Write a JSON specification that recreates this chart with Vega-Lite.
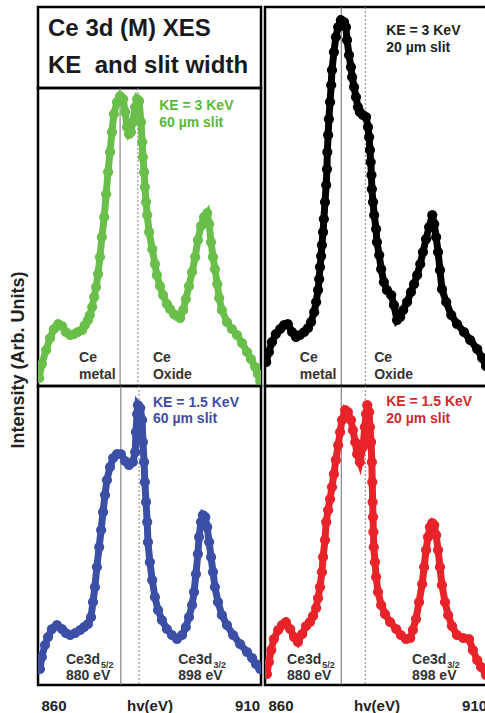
{
  "$schema": "https://vega.github.io/schema/vega-lite/v6.json",
  "background": "white",
  "padding": {"left": 9, "top": 5, "right": 0, "bottom": 0},
  "title": {"text": "Intensity (Arb. Units)", "orient": "left", "anchor": "middle", "font": "Liberation Sans", "fontSize": 18, "fontWeight": "bold", "color": "#222222", "offset": 9},
  "config": {
    "view": {"stroke": "#000000", "strokeWidth": 2.5},
    "concat": {"spacing": 0},
    "text": {"font": "Liberation Sans"}
  },
  "datasets": {
    "heading": [
      {"line": 1, "text": "Ce 3d (M) XES"},
      {"line": 2, "text": "KE\u00a0\u00a0and slit width"}
    ],
    "vlines": [
      {"panel": "A", "state": "metal", "eV": 877.2},
      {"panel": "A", "state": "oxide", "eV": 881.8},
      {"panel": "B", "state": "metal", "eV": 875.7},
      {"panel": "B", "state": "oxide", "eV": 881.9},
      {"panel": "C", "state": "metal", "eV": 877.4},
      {"panel": "C", "state": "oxide", "eV": 882.1},
      {"panel": "D", "state": "metal", "eV": 875.7},
      {"panel": "D", "state": "oxide", "eV": 881.9}
    ],
    "notes": [
      {"panel": "A", "kind": "cond", "eV": 887.3, "counts": 276, "text": "KE = 3 KeV"},
      {"panel": "A", "kind": "cond", "eV": 887.3, "counts": 259, "text": "60 µm slit"},
      {"panel": "A", "kind": "label", "eV": 866.6, "counts": 24, "text": "Ce"},
      {"panel": "A", "kind": "label", "eV": 866.6, "counts": 7, "text": "metal"},
      {"panel": "A", "kind": "label", "eV": 885.7, "counts": 24, "text": "Ce"},
      {"panel": "A", "kind": "label", "eV": 885.7, "counts": 7, "text": "Oxide"},
      {"panel": "B", "kind": "cond", "eV": 887.3, "counts": 351, "text": "KE = 3 KeV"},
      {"panel": "B", "kind": "cond", "eV": 887.3, "counts": 334, "text": "20 µm slit"},
      {"panel": "B", "kind": "label", "eV": 865.0, "counts": 24, "text": "Ce"},
      {"panel": "B", "kind": "label", "eV": 865.0, "counts": 7, "text": "metal"},
      {"panel": "B", "kind": "label", "eV": 884.2, "counts": 24, "text": "Ce"},
      {"panel": "B", "kind": "label", "eV": 884.2, "counts": 7, "text": "Oxide"},
      {"panel": "C", "kind": "cond", "eV": 885.7, "counts": 278, "text": "KE = 1.5 KeV"},
      {"panel": "C", "kind": "cond", "eV": 885.7, "counts": 262, "text": "60 µm slit"},
      {"panel": "C", "kind": "label", "eV": 863.2, "counts": 21, "text": "Ce3d"},
      {"panel": "C", "kind": "label", "eV": 863.2, "counts": 5, "text": "880 eV"},
      {"panel": "C", "kind": "label", "eV": 892.2, "counts": 21, "text": "Ce3d"},
      {"panel": "C", "kind": "label", "eV": 892.2, "counts": 5, "text": "898 eV"},
      {"panel": "C", "kind": "sub", "eV": 872.3, "counts": 17, "text": "5/2"},
      {"panel": "C", "kind": "sub", "eV": 901.3, "counts": 17, "text": "3/2"},
      {"panel": "D", "kind": "cond", "eV": 887.3, "counts": 279, "text": "KE = 1.5 KeV"},
      {"panel": "D", "kind": "cond", "eV": 887.3, "counts": 262, "text": "20 µm slit"},
      {"panel": "D", "kind": "label", "eV": 861.7, "counts": 21, "text": "Ce3d"},
      {"panel": "D", "kind": "label", "eV": 861.7, "counts": 5, "text": "880 eV"},
      {"panel": "D", "kind": "label", "eV": 894.0, "counts": 21, "text": "Ce3d"},
      {"panel": "D", "kind": "label", "eV": 894.0, "counts": 5, "text": "898 eV"},
      {"panel": "D", "kind": "sub", "eV": 870.8, "counts": 17, "text": "5/2"},
      {"panel": "D", "kind": "sub", "eV": 903.1, "counts": 17, "text": "3/2"}
    ],
    "spectra": [
      {"panel": "A", "eV": 856.3, "counts": 8}, {"panel": "A", "eV": 857.0, "counts": 22}, {"panel": "A", "eV": 858.1, "counts": 36}, {"panel": "A", "eV": 859.1, "counts": 48},
      {"panel": "A", "eV": 860.1, "counts": 57}, {"panel": "A", "eV": 861.2, "counts": 62}, {"panel": "A", "eV": 862.2, "counts": 60}, {"panel": "A", "eV": 863.2, "counts": 54},
      {"panel": "A", "eV": 864.3, "counts": 51}, {"panel": "A", "eV": 865.3, "counts": 52}, {"panel": "A", "eV": 866.3, "counts": 54}, {"panel": "A", "eV": 867.4, "counts": 56},
      {"panel": "A", "eV": 868.1, "counts": 61}, {"panel": "A", "eV": 868.9, "counts": 66}, {"panel": "A", "eV": 869.4, "counts": 71}, {"panel": "A", "eV": 870.0, "counts": 79},
      {"panel": "A", "eV": 870.5, "counts": 89}, {"panel": "A", "eV": 871.0, "counts": 99}, {"panel": "A", "eV": 871.5, "counts": 112}, {"panel": "A", "eV": 872.0, "counts": 129},
      {"panel": "A", "eV": 872.5, "counts": 149}, {"panel": "A", "eV": 873.1, "counts": 169}, {"panel": "A", "eV": 873.6, "counts": 192}, {"panel": "A", "eV": 874.1, "counts": 214},
      {"panel": "A", "eV": 874.6, "counts": 234}, {"panel": "A", "eV": 875.1, "counts": 254}, {"panel": "A", "eV": 875.6, "counts": 272}, {"panel": "A", "eV": 876.4, "counts": 284},
      {"panel": "A", "eV": 877.2, "counts": 290}, {"panel": "A", "eV": 878.0, "counts": 287}, {"panel": "A", "eV": 878.5, "counts": 274}, {"panel": "A", "eV": 879.0, "counts": 259},
      {"panel": "A", "eV": 879.5, "counts": 252}, {"panel": "A", "eV": 880.0, "counts": 254}, {"panel": "A", "eV": 880.5, "counts": 264}, {"panel": "A", "eV": 881.1, "counts": 279},
      {"panel": "A", "eV": 881.6, "counts": 287}, {"panel": "A", "eV": 882.1, "counts": 285}, {"panel": "A", "eV": 882.6, "counts": 264}, {"panel": "A", "eV": 882.9, "counts": 244},
      {"panel": "A", "eV": 883.1, "counts": 229}, {"panel": "A", "eV": 883.4, "counts": 214}, {"panel": "A", "eV": 883.6, "counts": 199}, {"panel": "A", "eV": 883.9, "counts": 184},
      {"panel": "A", "eV": 884.2, "counts": 171}, {"panel": "A", "eV": 884.7, "counts": 154}, {"panel": "A", "eV": 885.5, "counts": 137}, {"panel": "A", "eV": 886.2, "counts": 122},
      {"panel": "A", "eV": 886.7, "counts": 111}, {"panel": "A", "eV": 887.5, "counts": 100}, {"panel": "A", "eV": 888.3, "counts": 91}, {"panel": "A", "eV": 889.3, "counts": 82},
      {"panel": "A", "eV": 890.1, "counts": 77}, {"panel": "A", "eV": 891.1, "counts": 72}, {"panel": "A", "eV": 891.9, "counts": 70}, {"panel": "A", "eV": 892.7, "counts": 68},
      {"panel": "A", "eV": 893.5, "counts": 76}, {"panel": "A", "eV": 894.2, "counts": 87}, {"panel": "A", "eV": 895.0, "counts": 100}, {"panel": "A", "eV": 895.8, "counts": 114},
      {"panel": "A", "eV": 896.6, "counts": 129}, {"panel": "A", "eV": 897.3, "counts": 146}, {"panel": "A", "eV": 898.1, "counts": 160}, {"panel": "A", "eV": 898.9, "counts": 169},
      {"panel": "A", "eV": 899.7, "counts": 173}, {"panel": "A", "eV": 900.2, "counts": 162}, {"panel": "A", "eV": 900.7, "counts": 144}, {"panel": "A", "eV": 901.2, "counts": 129},
      {"panel": "A", "eV": 901.7, "counts": 117}, {"panel": "A", "eV": 902.3, "counts": 102}, {"panel": "A", "eV": 902.8, "counts": 88}, {"panel": "A", "eV": 903.5, "counts": 76},
      {"panel": "A", "eV": 904.8, "counts": 64}, {"panel": "A", "eV": 906.1, "counts": 57}, {"panel": "A", "eV": 907.4, "counts": 51}, {"panel": "A", "eV": 908.7, "counts": 43},
      {"panel": "A", "eV": 910.0, "counts": 34}, {"panel": "A", "eV": 911.0, "counts": 27}, {"panel": "A", "eV": 912.1, "counts": 19}, {"panel": "A", "eV": 912.8, "counts": 12},
      {"panel": "A", "eV": 913.4, "counts": 5},

      {"panel": "B", "eV": 856.3, "counts": 24}, {"panel": "B", "eV": 857.0, "counts": 34}, {"panel": "B", "eV": 857.8, "counts": 44}, {"panel": "B", "eV": 858.8, "counts": 52},
      {"panel": "B", "eV": 859.9, "counts": 57}, {"panel": "B", "eV": 860.9, "counts": 61}, {"panel": "B", "eV": 861.9, "counts": 62}, {"panel": "B", "eV": 863.0, "counts": 54},
      {"panel": "B", "eV": 864.0, "counts": 49}, {"panel": "B", "eV": 865.0, "counts": 51}, {"panel": "B", "eV": 866.1, "counts": 54}, {"panel": "B", "eV": 867.1, "counts": 58},
      {"panel": "B", "eV": 867.9, "counts": 64}, {"panel": "B", "eV": 868.7, "counts": 74}, {"panel": "B", "eV": 869.2, "counts": 84}, {"panel": "B", "eV": 869.7, "counts": 96},
      {"panel": "B", "eV": 870.0, "counts": 107}, {"panel": "B", "eV": 870.2, "counts": 119}, {"panel": "B", "eV": 870.5, "counts": 130}, {"panel": "B", "eV": 870.7, "counts": 141},
      {"panel": "B", "eV": 871.0, "counts": 154}, {"panel": "B", "eV": 871.2, "counts": 167}, {"panel": "B", "eV": 871.5, "counts": 184}, {"panel": "B", "eV": 871.8, "counts": 201},
      {"panel": "B", "eV": 872.0, "counts": 217}, {"panel": "B", "eV": 872.1, "counts": 234}, {"panel": "B", "eV": 872.3, "counts": 251}, {"panel": "B", "eV": 872.5, "counts": 267},
      {"panel": "B", "eV": 872.8, "counts": 284}, {"panel": "B", "eV": 873.1, "counts": 301}, {"panel": "B", "eV": 873.3, "counts": 316}, {"panel": "B", "eV": 873.8, "counts": 334},
      {"panel": "B", "eV": 874.3, "counts": 349}, {"panel": "B", "eV": 874.9, "counts": 359}, {"panel": "B", "eV": 875.6, "counts": 366}, {"panel": "B", "eV": 876.4, "counts": 364},
      {"panel": "B", "eV": 876.9, "counts": 359}, {"panel": "B", "eV": 877.2, "counts": 346}, {"panel": "B", "eV": 877.7, "counts": 331}, {"panel": "B", "eV": 878.2, "counts": 319},
      {"panel": "B", "eV": 878.5, "counts": 309}, {"panel": "B", "eV": 879.0, "counts": 299}, {"panel": "B", "eV": 879.5, "counts": 289}, {"panel": "B", "eV": 880.0, "counts": 279},
      {"panel": "B", "eV": 880.5, "counts": 274}, {"panel": "B", "eV": 881.3, "counts": 271}, {"panel": "B", "eV": 882.1, "counts": 269}, {"panel": "B", "eV": 882.6, "counts": 259},
      {"panel": "B", "eV": 882.9, "counts": 249}, {"panel": "B", "eV": 883.1, "counts": 236}, {"panel": "B", "eV": 883.3, "counts": 224}, {"panel": "B", "eV": 883.5, "counts": 211},
      {"panel": "B", "eV": 883.6, "counts": 197}, {"panel": "B", "eV": 883.9, "counts": 184}, {"panel": "B", "eV": 884.2, "counts": 171}, {"panel": "B", "eV": 884.7, "counts": 157},
      {"panel": "B", "eV": 884.9, "counts": 144}, {"panel": "B", "eV": 885.5, "counts": 131}, {"panel": "B", "eV": 886.0, "counts": 117}, {"panel": "B", "eV": 886.7, "counts": 104},
      {"panel": "B", "eV": 887.5, "counts": 96}, {"panel": "B", "eV": 888.6, "counts": 91}, {"panel": "B", "eV": 889.3, "counts": 81}, {"panel": "B", "eV": 890.1, "counts": 66},
      {"panel": "B", "eV": 890.9, "counts": 69}, {"panel": "B", "eV": 891.7, "counts": 76}, {"panel": "B", "eV": 892.7, "counts": 84}, {"panel": "B", "eV": 893.7, "counts": 94},
      {"panel": "B", "eV": 894.5, "counts": 102}, {"panel": "B", "eV": 895.3, "counts": 111}, {"panel": "B", "eV": 896.1, "counts": 122}, {"panel": "B", "eV": 896.8, "counts": 134},
      {"panel": "B", "eV": 897.6, "counts": 147}, {"panel": "B", "eV": 898.4, "counts": 159}, {"panel": "B", "eV": 899.2, "counts": 171}, {"panel": "B", "eV": 899.7, "counts": 162},
      {"panel": "B", "eV": 900.2, "counts": 149}, {"panel": "B", "eV": 900.7, "counts": 134}, {"panel": "B", "eV": 901.2, "counts": 116}, {"panel": "B", "eV": 901.7, "counts": 97},
      {"panel": "B", "eV": 902.8, "counts": 84}, {"panel": "B", "eV": 904.1, "counts": 71}, {"panel": "B", "eV": 905.6, "counts": 62}, {"panel": "B", "eV": 907.4, "counts": 54},
      {"panel": "B", "eV": 909.0, "counts": 46}, {"panel": "B", "eV": 910.8, "counts": 37}, {"panel": "B", "eV": 912.1, "counts": 28}, {"panel": "B", "eV": 913.1, "counts": 20},

      {"panel": "C", "eV": 856.5, "counts": 16}, {"panel": "C", "eV": 857.0, "counts": 28}, {"panel": "C", "eV": 857.8, "counts": 40}, {"panel": "C", "eV": 858.6, "counts": 48},
      {"panel": "C", "eV": 859.6, "counts": 56}, {"panel": "C", "eV": 860.9, "counts": 60}, {"panel": "C", "eV": 862.2, "counts": 56}, {"panel": "C", "eV": 863.2, "counts": 52},
      {"panel": "C", "eV": 864.3, "counts": 50}, {"panel": "C", "eV": 865.6, "counts": 52}, {"panel": "C", "eV": 866.9, "counts": 55}, {"panel": "C", "eV": 867.9, "counts": 58},
      {"panel": "C", "eV": 868.9, "counts": 61}, {"panel": "C", "eV": 869.7, "counts": 68}, {"panel": "C", "eV": 870.2, "counts": 83}, {"panel": "C", "eV": 870.7, "counts": 98},
      {"panel": "C", "eV": 871.2, "counts": 118}, {"panel": "C", "eV": 871.8, "counts": 138}, {"panel": "C", "eV": 872.3, "counts": 155}, {"panel": "C", "eV": 872.8, "counts": 173},
      {"panel": "C", "eV": 873.3, "counts": 190}, {"panel": "C", "eV": 873.8, "counts": 205}, {"panel": "C", "eV": 874.6, "counts": 218}, {"panel": "C", "eV": 875.4, "counts": 227},
      {"panel": "C", "eV": 876.4, "counts": 231}, {"panel": "C", "eV": 877.4, "counts": 231}, {"panel": "C", "eV": 878.5, "counts": 224}, {"panel": "C", "eV": 879.5, "counts": 220},
      {"panel": "C", "eV": 880.5, "counts": 223}, {"panel": "C", "eV": 881.1, "counts": 233}, {"panel": "C", "eV": 881.3, "counts": 253}, {"panel": "C", "eV": 881.6, "counts": 271},
      {"panel": "C", "eV": 881.8, "counts": 280}, {"panel": "C", "eV": 882.4, "counts": 277}, {"panel": "C", "eV": 882.9, "counts": 265}, {"panel": "C", "eV": 883.1, "counts": 243},
      {"panel": "C", "eV": 883.4, "counts": 223}, {"panel": "C", "eV": 883.6, "counts": 203}, {"panel": "C", "eV": 883.9, "counts": 183}, {"panel": "C", "eV": 884.2, "counts": 163},
      {"panel": "C", "eV": 884.4, "counts": 143}, {"panel": "C", "eV": 884.9, "counts": 123}, {"panel": "C", "eV": 885.5, "counts": 105}, {"panel": "C", "eV": 886.2, "counts": 88},
      {"panel": "C", "eV": 887.0, "counts": 75}, {"panel": "C", "eV": 888.0, "counts": 65}, {"panel": "C", "eV": 889.3, "counts": 56}, {"panel": "C", "eV": 890.6, "counts": 50},
      {"panel": "C", "eV": 891.9, "counts": 46}, {"panel": "C", "eV": 893.2, "counts": 50}, {"panel": "C", "eV": 894.2, "counts": 58}, {"panel": "C", "eV": 895.0, "counts": 68},
      {"panel": "C", "eV": 895.8, "counts": 80}, {"panel": "C", "eV": 896.3, "counts": 93}, {"panel": "C", "eV": 896.8, "counts": 111}, {"panel": "C", "eV": 897.3, "counts": 131},
      {"panel": "C", "eV": 897.6, "counts": 148}, {"panel": "C", "eV": 898.1, "counts": 163}, {"panel": "C", "eV": 898.6, "counts": 170}, {"panel": "C", "eV": 899.2, "counts": 168},
      {"panel": "C", "eV": 899.7, "counts": 158}, {"panel": "C", "eV": 900.2, "counts": 143}, {"panel": "C", "eV": 900.7, "counts": 128}, {"panel": "C", "eV": 901.2, "counts": 113},
      {"panel": "C", "eV": 901.7, "counts": 98}, {"panel": "C", "eV": 902.5, "counts": 83}, {"panel": "C", "eV": 903.5, "counts": 70}, {"panel": "C", "eV": 904.8, "counts": 60},
      {"panel": "C", "eV": 906.4, "counts": 50}, {"panel": "C", "eV": 908.2, "counts": 41}, {"panel": "C", "eV": 910.0, "counts": 33}, {"panel": "C", "eV": 911.3, "counts": 27},
      {"panel": "C", "eV": 912.3, "counts": 21}, {"panel": "C", "eV": 913.4, "counts": 16},

      {"panel": "D", "eV": 856.5, "counts": 11}, {"panel": "D", "eV": 857.0, "counts": 23}, {"panel": "D", "eV": 857.6, "counts": 35}, {"panel": "D", "eV": 858.3, "counts": 46},
      {"panel": "D", "eV": 859.4, "counts": 55}, {"panel": "D", "eV": 860.4, "counts": 60}, {"panel": "D", "eV": 861.4, "counts": 63}, {"panel": "D", "eV": 862.5, "counts": 56},
      {"panel": "D", "eV": 863.5, "counts": 48}, {"panel": "D", "eV": 864.5, "counts": 43}, {"panel": "D", "eV": 865.6, "counts": 51}, {"panel": "D", "eV": 866.6, "counts": 59},
      {"panel": "D", "eV": 867.6, "counts": 63}, {"panel": "D", "eV": 868.4, "counts": 69}, {"panel": "D", "eV": 869.2, "counts": 77}, {"panel": "D", "eV": 869.7, "counts": 87},
      {"panel": "D", "eV": 870.2, "counts": 98}, {"panel": "D", "eV": 870.7, "counts": 113}, {"panel": "D", "eV": 871.0, "counts": 128}, {"panel": "D", "eV": 871.5, "counts": 145},
      {"panel": "D", "eV": 871.8, "counts": 163}, {"panel": "D", "eV": 872.3, "counts": 175}, {"panel": "D", "eV": 872.8, "counts": 186}, {"panel": "D", "eV": 873.3, "counts": 198},
      {"panel": "D", "eV": 873.8, "counts": 211}, {"panel": "D", "eV": 874.3, "counts": 225}, {"panel": "D", "eV": 874.9, "counts": 240}, {"panel": "D", "eV": 875.4, "counts": 253},
      {"panel": "D", "eV": 875.9, "counts": 265}, {"panel": "D", "eV": 876.7, "counts": 275}, {"panel": "D", "eV": 877.4, "counts": 273}, {"panel": "D", "eV": 878.2, "counts": 265},
      {"panel": "D", "eV": 878.7, "counts": 255}, {"panel": "D", "eV": 879.3, "counts": 243}, {"panel": "D", "eV": 879.8, "counts": 231}, {"panel": "D", "eV": 880.5, "counts": 223},
      {"panel": "D", "eV": 881.3, "counts": 238}, {"panel": "D", "eV": 881.8, "counts": 258}, {"panel": "D", "eV": 882.1, "counts": 271}, {"panel": "D", "eV": 882.4, "counts": 280},
      {"panel": "D", "eV": 882.9, "counts": 273}, {"panel": "D", "eV": 883.1, "counts": 258}, {"panel": "D", "eV": 883.4, "counts": 243}, {"panel": "D", "eV": 883.6, "counts": 223},
      {"panel": "D", "eV": 883.7, "counts": 203}, {"panel": "D", "eV": 883.8, "counts": 183}, {"panel": "D", "eV": 883.9, "counts": 168}, {"panel": "D", "eV": 884.0, "counts": 153},
      {"panel": "D", "eV": 884.1, "counts": 138}, {"panel": "D", "eV": 884.4, "counts": 123}, {"panel": "D", "eV": 884.7, "counts": 108}, {"panel": "D", "eV": 885.2, "counts": 93},
      {"panel": "D", "eV": 886.0, "counts": 80}, {"panel": "D", "eV": 887.0, "counts": 71}, {"panel": "D", "eV": 888.3, "counts": 63}, {"panel": "D", "eV": 889.9, "counts": 56},
      {"panel": "D", "eV": 891.1, "counts": 50}, {"panel": "D", "eV": 892.4, "counts": 46}, {"panel": "D", "eV": 893.5, "counts": 47}, {"panel": "D", "eV": 894.2, "counts": 55},
      {"panel": "D", "eV": 895.0, "counts": 66}, {"panel": "D", "eV": 895.8, "counts": 83}, {"panel": "D", "eV": 896.6, "counts": 101}, {"panel": "D", "eV": 897.1, "counts": 118},
      {"panel": "D", "eV": 897.6, "counts": 135}, {"panel": "D", "eV": 898.1, "counts": 148}, {"panel": "D", "eV": 898.6, "counts": 158}, {"panel": "D", "eV": 899.2, "counts": 162},
      {"panel": "D", "eV": 899.7, "counts": 160}, {"panel": "D", "eV": 900.2, "counts": 150}, {"panel": "D", "eV": 900.7, "counts": 135}, {"panel": "D", "eV": 901.2, "counts": 118},
      {"panel": "D", "eV": 901.7, "counts": 100}, {"panel": "D", "eV": 902.5, "counts": 83}, {"panel": "D", "eV": 903.3, "counts": 70}, {"panel": "D", "eV": 904.3, "counts": 59},
      {"panel": "D", "eV": 905.6, "counts": 50}, {"panel": "D", "eV": 907.2, "counts": 47}, {"panel": "D", "eV": 908.7, "counts": 46}, {"panel": "D", "eV": 909.7, "counts": 35},
      {"panel": "D", "eV": 910.8, "counts": 25}, {"panel": "D", "eV": 911.8, "counts": 18}, {"panel": "D", "eV": 913.1, "counts": 10}
    ]
  },
  "spacing": 0,
  "hconcat": [
    {
      "spacing": 0,
      "bounds": "flush",
      "vconcat": [
        {
          "width": 223, "height": 81,
          "data": {"name": "heading"},
          "mark": {"type": "text", "align": "left", "baseline": "middle", "font": "Liberation Sans", "fontWeight": "bold", "fontSize": 24, "color": "#1a1a1a"},
          "encoding": {
            "x": {"datum": 0.045, "type": "quantitative", "scale": {"domain": [0, 1], "nice": false, "zero": false}, "axis": null},
            "y": {"field": "line", "type": "ordinal", "scale": {"padding": 0.6}, "axis": null},
            "text": {"field": "text"}
          }
        },
        {
          "width": 223, "height": 298,
          "encoding": {"x": {"field": "eV", "type": "quantitative", "scale": {"domain": [856, 913.6], "nice": false, "zero": false}, "axis": null}},
          "layer": [
            {"data": {"name": "vlines"}, "transform": [{"filter": "datum.panel == 'A' && datum.state == 'metal'"}], "mark": {"type": "rule", "color": "#6e6e6e", "strokeWidth": 1, "clip": true}, "encoding": {}},
            {"data": {"name": "vlines"}, "transform": [{"filter": "datum.panel == 'A' && datum.state == 'oxide'"}], "mark": {"type": "rule", "color": "#808080", "strokeWidth": 1, "strokeDash": [2, 2], "clip": true}, "encoding": {}},
            {"data": {"name": "spectra"}, "transform": [{"filter": "datum.panel == 'A'"}], "mark": {"type": "line", "color": "#6abf4b", "strokeWidth": 7, "clip": true},
             "encoding": {"y": {"field": "counts", "type": "quantitative", "scale": {"domain": [0, 298], "nice": false, "zero": false}, "axis": null}}},
            {"data": {"name": "spectra"}, "transform": [{"filter": "datum.panel == 'A'"}], "mark": {"type": "circle", "color": "#6abf4b", "size": 105, "opacity": 1, "clip": true},
             "encoding": {"y": {"field": "counts", "type": "quantitative"}}},
            {"data": {"name": "notes"}, "transform": [{"filter": "datum.panel == 'A' && datum.kind == 'cond'"}], "mark": {"type": "text", "align": "left", "baseline": "alphabetic", "fontWeight": "bold", "fontSize": 14, "color": "#5cb83c"},
             "encoding": {"y": {"field": "counts", "type": "quantitative"}, "text": {"field": "text"}}},
            {"data": {"name": "notes"}, "transform": [{"filter": "datum.panel == 'A' && datum.kind == 'label'"}], "mark": {"type": "text", "align": "left", "baseline": "alphabetic", "fontWeight": "bold", "fontSize": 14, "color": "#333333"},
             "encoding": {"y": {"field": "counts", "type": "quantitative"}, "text": {"field": "text"}}}
          ]
        },
        {
          "width": 223, "height": 299,
          "encoding": {"x": {"field": "eV", "type": "quantitative", "scale": {"domain": [856, 913.6], "nice": false, "zero": false},
            "axis": {"values": [860, 910], "title": "hv(eV)", "ticks": false, "domain": false, "grid": false, "labelFlush": false, "labelOverlap": false,
              "labelFont": "Liberation Sans", "labelFontSize": 15, "labelFontWeight": "bold", "labelColor": "#222222", "labelPadding": 13,
              "titleFont": "Liberation Sans", "titleFontSize": 15, "titleFontWeight": "bold", "titleColor": "#222222", "titleY": 13, "titleBaseline": "top"}}},
          "layer": [
            {"data": {"name": "vlines"}, "transform": [{"filter": "datum.panel == 'C' && datum.state == 'metal'"}], "mark": {"type": "rule", "color": "#6e6e6e", "strokeWidth": 1, "clip": true}, "encoding": {}},
            {"data": {"name": "vlines"}, "transform": [{"filter": "datum.panel == 'C' && datum.state == 'oxide'"}], "mark": {"type": "rule", "color": "#808080", "strokeWidth": 1, "strokeDash": [2, 2], "clip": true}, "encoding": {}},
            {"data": {"name": "spectra"}, "transform": [{"filter": "datum.panel == 'C'"}], "mark": {"type": "line", "color": "#3b4fa6", "strokeWidth": 7, "clip": true},
             "encoding": {"y": {"field": "counts", "type": "quantitative", "scale": {"domain": [0, 299], "nice": false, "zero": false}, "axis": null}}},
            {"data": {"name": "spectra"}, "transform": [{"filter": "datum.panel == 'C'"}], "mark": {"type": "circle", "color": "#3b4fa6", "size": 105, "opacity": 1, "clip": true},
             "encoding": {"y": {"field": "counts", "type": "quantitative"}}},
            {"data": {"name": "notes"}, "transform": [{"filter": "datum.panel == 'C' && datum.kind == 'cond'"}], "mark": {"type": "text", "align": "left", "baseline": "alphabetic", "fontWeight": "bold", "fontSize": 14, "color": "#3d4fa0"},
             "encoding": {"y": {"field": "counts", "type": "quantitative"}, "text": {"field": "text"}}},
            {"data": {"name": "notes"}, "transform": [{"filter": "datum.panel == 'C' && datum.kind == 'label'"}], "mark": {"type": "text", "align": "left", "baseline": "alphabetic", "fontWeight": "bold", "fontSize": 14, "color": "#333333"},
             "encoding": {"y": {"field": "counts", "type": "quantitative"}, "text": {"field": "text"}}},
            {"data": {"name": "notes"}, "transform": [{"filter": "datum.panel == 'C' && datum.kind == 'sub'"}], "mark": {"type": "text", "align": "left", "baseline": "alphabetic", "fontWeight": "bold", "fontSize": 9, "color": "#333333"},
             "encoding": {"y": {"field": "counts", "type": "quantitative"}, "text": {"field": "text"}}}
          ]
        }
      ]
    },
    {
      "spacing": 0,
      "bounds": "flush",
      "vconcat": [
        {
          "width": 223, "height": 379,
          "encoding": {"x": {"field": "eV", "type": "quantitative", "scale": {"domain": [856, 913.6], "nice": false, "zero": false}, "axis": null}},
          "layer": [
            {"data": {"name": "vlines"}, "transform": [{"filter": "datum.panel == 'B' && datum.state == 'metal'"}], "mark": {"type": "rule", "color": "#6e6e6e", "strokeWidth": 1, "clip": true}, "encoding": {}},
            {"data": {"name": "vlines"}, "transform": [{"filter": "datum.panel == 'B' && datum.state == 'oxide'"}], "mark": {"type": "rule", "color": "#808080", "strokeWidth": 1, "strokeDash": [2, 2], "clip": true}, "encoding": {}},
            {"data": {"name": "spectra"}, "transform": [{"filter": "datum.panel == 'B'"}], "mark": {"type": "line", "color": "#000000", "strokeWidth": 7, "clip": true},
             "encoding": {"y": {"field": "counts", "type": "quantitative", "scale": {"domain": [0, 379], "nice": false, "zero": false}, "axis": null}}},
            {"data": {"name": "spectra"}, "transform": [{"filter": "datum.panel == 'B'"}], "mark": {"type": "circle", "color": "#000000", "size": 105, "opacity": 1, "clip": true},
             "encoding": {"y": {"field": "counts", "type": "quantitative"}}},
            {"data": {"name": "notes"}, "transform": [{"filter": "datum.panel == 'B' && datum.kind == 'cond'"}], "mark": {"type": "text", "align": "left", "baseline": "alphabetic", "fontWeight": "bold", "fontSize": 14, "color": "#222222"},
             "encoding": {"y": {"field": "counts", "type": "quantitative"}, "text": {"field": "text"}}},
            {"data": {"name": "notes"}, "transform": [{"filter": "datum.panel == 'B' && datum.kind == 'label'"}], "mark": {"type": "text", "align": "left", "baseline": "alphabetic", "fontWeight": "bold", "fontSize": 14, "color": "#333333"},
             "encoding": {"y": {"field": "counts", "type": "quantitative"}, "text": {"field": "text"}}}
          ]
        },
        {
          "width": 223, "height": 299,
          "encoding": {"x": {"field": "eV", "type": "quantitative", "scale": {"domain": [856, 913.6], "nice": false, "zero": false},
            "axis": {"values": [860, 910], "title": "hv(eV)", "ticks": false, "domain": false, "grid": false, "labelFlush": false, "labelOverlap": false,
              "labelFont": "Liberation Sans", "labelFontSize": 15, "labelFontWeight": "bold", "labelColor": "#222222", "labelPadding": 13,
              "titleFont": "Liberation Sans", "titleFontSize": 15, "titleFontWeight": "bold", "titleColor": "#222222", "titleY": 13, "titleBaseline": "top"}}},
          "layer": [
            {"data": {"name": "vlines"}, "transform": [{"filter": "datum.panel == 'D' && datum.state == 'metal'"}], "mark": {"type": "rule", "color": "#6e6e6e", "strokeWidth": 1, "clip": true}, "encoding": {}},
            {"data": {"name": "vlines"}, "transform": [{"filter": "datum.panel == 'D' && datum.state == 'oxide'"}], "mark": {"type": "rule", "color": "#808080", "strokeWidth": 1, "strokeDash": [2, 2], "clip": true}, "encoding": {}},
            {"data": {"name": "spectra"}, "transform": [{"filter": "datum.panel == 'D'"}], "mark": {"type": "line", "color": "#e8232a", "strokeWidth": 7, "clip": true},
             "encoding": {"y": {"field": "counts", "type": "quantitative", "scale": {"domain": [0, 299], "nice": false, "zero": false}, "axis": null}}},
            {"data": {"name": "spectra"}, "transform": [{"filter": "datum.panel == 'D'"}], "mark": {"type": "circle", "color": "#e8232a", "size": 105, "opacity": 1, "clip": true},
             "encoding": {"y": {"field": "counts", "type": "quantitative"}}},
            {"data": {"name": "notes"}, "transform": [{"filter": "datum.panel == 'D' && datum.kind == 'cond'"}], "mark": {"type": "text", "align": "left", "baseline": "alphabetic", "fontWeight": "bold", "fontSize": 14, "color": "#cf2a30"},
             "encoding": {"y": {"field": "counts", "type": "quantitative"}, "text": {"field": "text"}}},
            {"data": {"name": "notes"}, "transform": [{"filter": "datum.panel == 'D' && datum.kind == 'label'"}], "mark": {"type": "text", "align": "left", "baseline": "alphabetic", "fontWeight": "bold", "fontSize": 14, "color": "#333333"},
             "encoding": {"y": {"field": "counts", "type": "quantitative"}, "text": {"field": "text"}}},
            {"data": {"name": "notes"}, "transform": [{"filter": "datum.panel == 'D' && datum.kind == 'sub'"}], "mark": {"type": "text", "align": "left", "baseline": "alphabetic", "fontWeight": "bold", "fontSize": 9, "color": "#333333"},
             "encoding": {"y": {"field": "counts", "type": "quantitative"}, "text": {"field": "text"}}}
          ]
        }
      ]
    }
  ]
}
